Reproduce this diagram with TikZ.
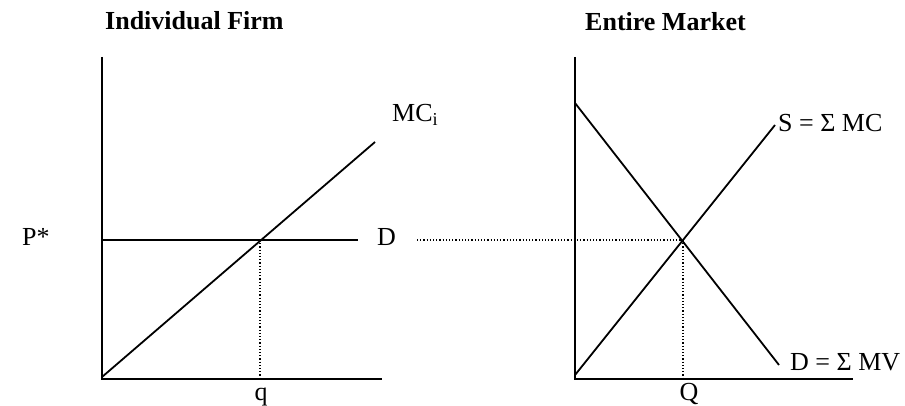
\documentclass[tikz,border=0pt]{standalone}
\usepackage{fontspec}
\setmainfont{Liberation Serif}
\begin{document}
\begin{tikzpicture}[x=1pt,y=-1pt,
  axis/.style={line width=2.1pt},
  curve/.style={line width=1.8pt},
  guide/.style={line width=1.2pt,dotted},
  lbl/.style={inner sep=0pt,font=\fontsize{26}{30}\selectfont},
  ttl/.style={inner sep=0pt,font=\fontsize{26}{30}\selectfont\bfseries}]
\useasboundingbox (0,0) rectangle (905,406);
% titles
\node[ttl,anchor=base west] (t1) at (105,30) {Individual Firm};
\node[ttl,anchor=base west] (t2) at (585,31) {Entire Market};
% left panel coordinates
\coordinate (lo) at (102,379);
\coordinate (ltop) at (102,57);
\coordinate (lright) at (382,379);
\coordinate (mcs) at (102,377);
\coordinate (mce) at (375,142);
\coordinate (ds) at (102,240);
\coordinate (de) at (358,240);
\coordinate (le) at (260,240);
\coordinate (lq) at (260,378);
\draw[axis] (ltop) -- (lo) -- (lright);
\draw[curve] (mcs) -- (mce);
\draw[curve] (ds) -- (de);
\draw[guide] (le) -- (lq);
% right panel coordinates
\coordinate (ro) at (575,379);
\coordinate (rtop) at (575,57);
\coordinate (rright) at (853,379);
\coordinate (dms) at (575,103);
\coordinate (dme) at (779,365);
\coordinate (ss) at (575,375);
\coordinate (se) at (775,125);
\coordinate (re) at (683,240);
\coordinate (rq) at (683,378);
\coordinate (dots) at (417,240);
\draw[axis] (rtop) -- (ro) -- (rright);
\draw[curve] (dms) -- (dme);
\draw[curve] (ss) -- (se);
\draw[guide] (re) -- (rq);
\draw[guide] (dots) -- (re);
% labels
\node[lbl,anchor=base west] (pstar) at (22,246) {P*};
\node[lbl,anchor=base west] (dl) at (377,246) {D};
\node[lbl,anchor=base west] (mci) at (392,122) {MC\textsubscript{i}};
\node[lbl,anchor=base] (ql) at (261,400) {q};
\node[lbl,anchor=base] (Ql) at (689,400) {Q};
\node[lbl,anchor=base west] (sl) at (778,132) {S = Σ MC};
\node[lbl,anchor=base west] (dmv) at (790,370) {D = Σ MV};
\end{tikzpicture}
\end{document}
